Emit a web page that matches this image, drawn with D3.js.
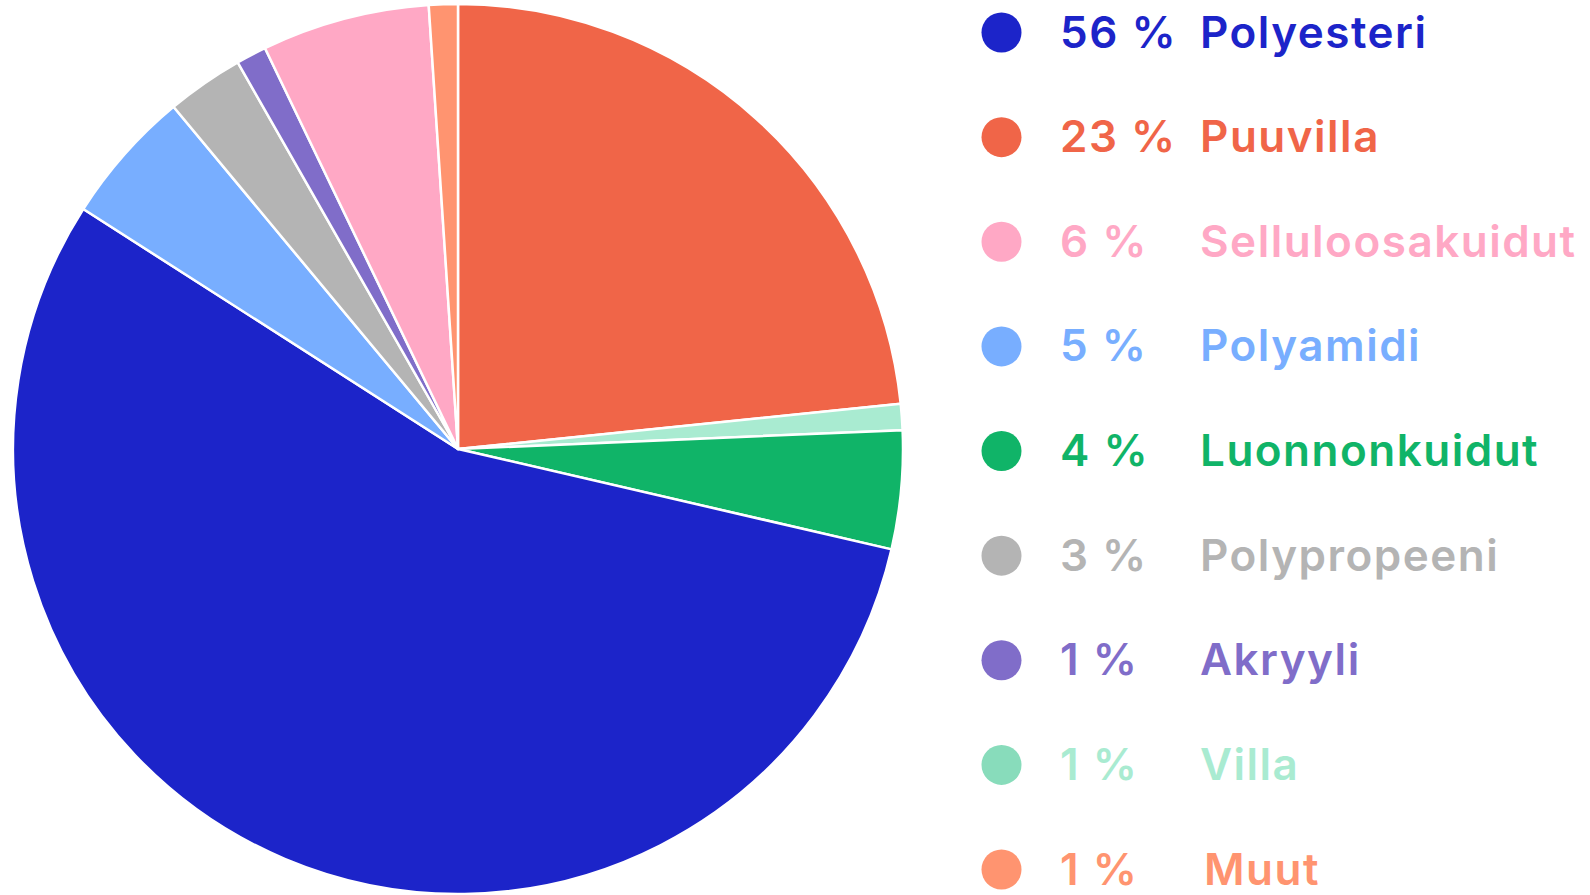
<!DOCTYPE html>
<html>
<head>
<meta charset="utf-8">
<script src="https://cdn.jsdelivr.net/npm/d3@7"></script>
<style>
  html, body { margin: 0; padding: 0; background: #fff; }
  svg { display: block; }
</style>
</head>
<body>
<div id="chart"></div>
<script>
'use strict';

let width = 1590;
let height = 895;

// legend order (largest first)
const fibres = ["Polyesteri", "Puuvilla", "Selluloosakuidut", "Polyamidi", "Luonnonkuidut", "Polypropeeni", "Akryyli", "Villa", "Muut"];
const shareLabels = ["56 %", "23 %", "6 %", "5 %", "4 %", "3 %", "1 %", "1 %", "1 %"];
// slice sizes
const shares = [55.5, 23.4, 6.1, 4.9, 4.3, 2.8, 1.1, 0.95, 1.05];
const colors = ["#1c24c9", "#f06548", "#ffa8c5", "#78aeff", "#10b468", "#b4b4b4", "#806dc9", "#a9ebd1", "#ff9470"];
const markerColors = ["#1c24c9", "#f06548", "#ffa8c5", "#78aeff", "#10b468", "#b4b4b4", "#806dc9", "#88dcbb", "#ff9470"];
// clockwise from 12 o'clock
const pieOrder = ["Puuvilla", "Villa", "Luonnonkuidut", "Polyesteri", "Polyamidi", "Polypropeeni", "Akryyli", "Selluloosakuidut", "Muut"];

const data = fibres.map((f, i) => ({ name: f, label: shareLabels[i], value: shares[i], color: colors[i], marker: markerColors[i] }));
const byName = new Map(data.map(d => [d.name, d]));

const svg = d3.select("#chart")
    .append("svg")
    .attr("width", width)
    .attr("height", height);

// pie
const radius = 445;
const g = svg.append("g")
    .attr("transform", "translate(458,449)");

const pie = d3.pie()
    .sort(null)
    .value(d => d.value);

const arc = d3.arc()
    .innerRadius(0)
    .outerRadius(radius);

g.selectAll("path")
    .data(pie(pieOrder.map(n => byName.get(n))))
    .join("path")
    .attr("d", arc)
    .attr("fill", d => d.data.color)
    .attr("stroke", "#fff")
    .attr("stroke-width", 2.5)
    .attr("stroke-linejoin", "round");

// legend
const rowY = d3.scalePoint()
    .domain(fibres)
    .range([32.5, 869.5]);

const legend = svg.append("g")
    .style("font-family", "Inter, 'Open Sans', sans-serif")
    .style("font-weight", 600)
    .style("font-size", "44px")
    .style("letter-spacing", "1.5px")
    .selectAll("g")
    .data(data)
    .join("g")
    .attr("transform", d => `translate(0,${rowY(d.name)})`);

legend.append("circle")
    .attr("cx", 1001.5)
    .attr("cy", 0)
    .attr("r", 20)
    .attr("fill", d => d.marker);

legend.append("text")
    .attr("x", 1060)
    .attr("y", 15)
    .attr("fill", d => d.color)
    .text(d => d.label);

legend.append("text")
    .attr("x", d => d.name === "Muut" ? 1204 : 1200)
    .attr("y", 15)
    .attr("fill", d => d.color)
    .text(d => d.name);
</script>
</body>
</html>
